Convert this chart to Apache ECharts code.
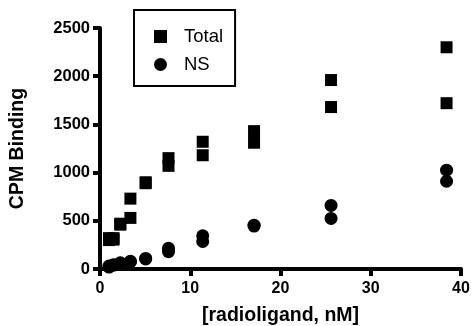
<!DOCTYPE html>
<html>
<head>
<meta charset="utf-8">
<script src="https://cdn.jsdelivr.net/npm/echarts@6/dist/echarts.min.js"></script>
<style>
html,body{margin:0;padding:0;background:#fff;}
#chart{width:473px;height:326px;}
</style>
</head>
<body>
<div id="chart"></div>
<script>
// radioligand concentrations (nM), 1.5x dilution series
var conc = [1.0, 1.5, 2.25, 3.37, 5.06, 7.59, 11.38, 17.07, 25.6, 38.4];
// total binding, two replicates
var totalA = [300, 320, 460, 530, 890, 1070, 1180, 1310, 1680, 1720];
var totalB = [320, 305, 470, 730, 900, 1150, 1320, 1430, 1960, 2300];
// non-specific binding, two replicates
var nsA = [20, 40, 60, 75, 105, 180, 285, 445, 525, 910];
var nsB = [30, 45, 65, 80, 110, 215, 345, 455, 660, 1025];

var xTicks = [0, 10, 20, 30, 40];
var yTicks = [0, 500, 1000, 1500, 2000, 2500];

function pairs(xs, a, b){
	var out = [];
	for(var i = 0 ; i < xs.length ; i++){
		out.push([xs[i], a[i]]);
		out.push([xs[i], b[i]]);
	}
	return out;
}

var myChart = echarts.init(document.getElementById('chart'));
var axisFont = 'Liberation Sans, Arial, sans-serif';
var option = {
	animation: false,
	grid: {left: 100, right: 12, top: 28, bottom: 57, outerBoundsMode: 'none'},
	legend: {
		orient: 'vertical',
		left: 134,
		top: 10,
		padding: [17, 12, 12, 20],
		itemWidth: 13,
		itemHeight: 13,
		itemGap: 9,
		borderColor: '#000',
		borderWidth: 2,
		textStyle: {fontFamily: axisFont, fontSize: 18.5, color: '#000', padding: [0, 0, 0, 12]},
		data: [{name: 'Total', icon: 'rect'}, {name: 'NS', icon: 'circle'}]
	},
	xAxis: {
		type: 'value',
		min: xTicks[0],
		max: xTicks[xTicks.length - 1],
		interval: 10,
		name: '[radioligand, nM]',
		nameLocation: 'middle',
		nameGap: 37,
		nameTextStyle: {fontFamily: axisFont, fontSize: 19.5, fontWeight: 'bold', color: '#000'},
		splitLine: {show: false},
		axisLine: {show: true, lineStyle: {color: '#000', width: 4}},
		axisTick: {show: true, length: 7, lineStyle: {color: '#000', width: 4}},
		axisLabel: {fontFamily: axisFont, fontSize: 16, fontWeight: 'bold', color: '#000', margin: 12,
			formatter: function(v){ return String(v); }}
	},
	yAxis: {
		type: 'value',
		min: yTicks[0],
		max: yTicks[yTicks.length - 1],
		interval: 500,
		name: 'CPM Binding',
		nameLocation: 'middle',
		nameGap: 72,
		nameTextStyle: {fontFamily: axisFont, fontSize: 19.5, fontWeight: 'bold', color: '#000'},
		splitLine: {show: false},
		axisLine: {show: true, lineStyle: {color: '#000', width: 4}},
		axisTick: {show: true, length: 7, lineStyle: {color: '#000', width: 4}},
		axisLabel: {fontFamily: axisFont, fontSize: 16.5, fontWeight: 'bold', color: '#000', margin: 10,
			formatter: function(v){ return String(v); }}
	},
	series: [
		{
			name: 'Total',
			type: 'scatter',
			symbol: 'rect',
			symbolSize: 12,
			itemStyle: {color: '#000', opacity: 1},
			data: pairs(conc, totalA, totalB)
		},
		{
			name: 'NS',
			type: 'scatter',
			symbol: 'circle',
			symbolSize: 13,
			itemStyle: {color: '#000', opacity: 1},
			data: pairs(conc, nsA, nsB)
		}
	]
};
myChart.setOption(option);
</script>
</body>
</html>
